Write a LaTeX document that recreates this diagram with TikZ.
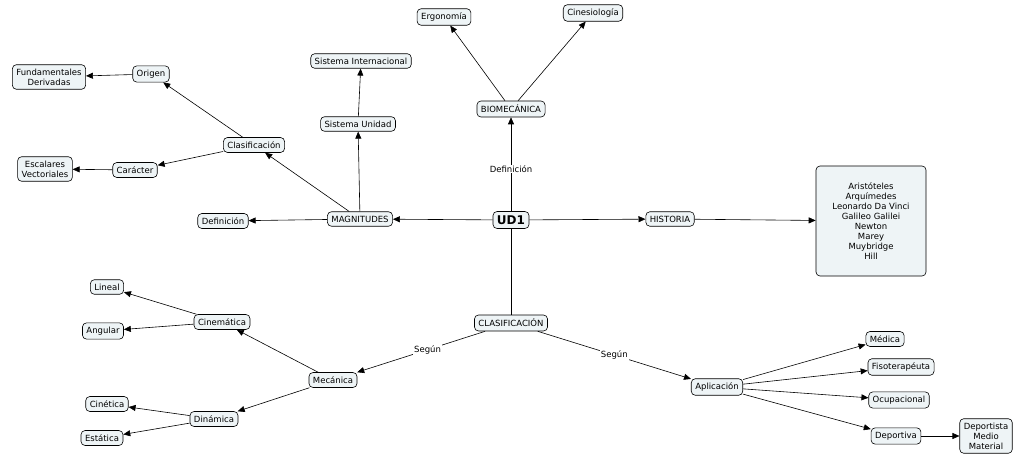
\documentclass[tikz,border=0pt]{standalone}
\usepackage{fontspec}
\setmainfont{DejaVu Sans}
\usetikzlibrary{arrows.meta}
\definecolor{boxfill}{HTML}{EEF4F6}
\begin{document}
\begin{tikzpicture}[x=1pt,y=-1pt,
  box/.style={draw=black,fill=boxfill,rounded corners=4pt,font=\fontsize{8.5}{10}\selectfont,inner sep=4pt,align=center,line width=0.6pt},
  lbl/.style={fill=white,font=\fontsize{8.5}{10}\selectfont,inner sep=1pt},
  arr/.style={-{Triangle[length=7pt,width=6pt]},line width=0.6pt},
  ln/.style={line width=0.6pt}]
\useasboundingbox (0,0) rectangle (1024,462);
\node[box,font=\bfseries\fontsize{12}{14}\selectfont] (ud1) at (511,220) {UD1};
\node[box] (mag) at (360,219) {MAGNITUDES};
\node[box] (def) at (223,221) {Definición};
\node[box] (clas) at (254,145) {Clasificación};
\node[box] (orig) at (151,74) {Origen};
\node[box] (fund) at (49,77) {Fundamentales\\Derivadas};
\node[box] (car) at (135,170) {Carácter};
\node[box] (esc) at (45,169) {Escalares\\Vectoriales};
\node[box] (su) at (358,124) {Sistema Unidad};
\node[box] (si) at (361,61) {Sistema Internacional};
\node[box] (bio) at (511,109) {BIOMECÁNICA};
\node[box] (erg) at (444,17) {Ergonomía};
\node[box] (cin) at (593,13) {Cinesiología};
\node[box] (his) at (670,219) {HISTORIA};
\node[box,minimum width=110pt,minimum height=110pt] (list) at (871,221) {Aristóteles\\Arquímedes\\Leonardo Da Vinci\\Galileo Galilei\\Newton\\Marey\\Muybridge\\Hill};
\node[box] (cla2) at (511,323) {CLASIFICACIÓN};
\node[box] (mec) at (333,380) {Mecánica};
\node[box] (cinem) at (222,322) {Cinemática};
\node[box] (lin) at (107,287) {Lineal};
\node[box] (ang) at (103,331) {Angular};
\node[box] (din) at (214,419) {Dinámica};
\node[box] (cint) at (107,404) {Cinética};
\node[box] (est) at (102,438) {Estática};
\node[box] (apl) at (717,387) {Aplicación};
\node[box] (med) at (885,339) {Médica};
\node[box] (fis) at (901,367) {Fisoterapéuta};
\node[box] (ocu) at (899,400) {Ocupacional};
\node[box] (dep) at (896,436) {Deportiva};
\node[box] (dpm) at (986,436) {Deportista\\Medio\\Material};
\draw[arr] (ud1) -- (mag);
\draw[arr] (ud1) -- node[lbl,pos=0.45]{Definición} (bio);
\draw[arr] (ud1) -- (his);
\draw[ln] (ud1) -- (cla2);
\draw[arr] (mag) -- (def);
\draw[arr] (mag) -- (clas);
\draw[arr] (mag) -- (su);
\draw[arr] (su) -- (si);
\draw[arr] (clas) -- (orig);
\draw[arr] (clas) -- (car);
\draw[arr] (orig) -- (fund);
\draw[arr] (car) -- (esc);
\draw[arr] (bio) -- (erg);
\draw[arr] (bio) -- (cin);
\draw[arr] (his) -- (list);
\draw[arr] (cla2) -- node[lbl,pos=0.45]{Según} (mec);
\draw[arr] (cla2) -- node[lbl,pos=0.5]{Según} (apl);
\draw[arr] (mec) -- (cinem);
\draw[arr] (mec) -- (din);
\draw[arr] (cinem) -- (lin);
\draw[arr] (cinem) -- (ang);
\draw[arr] (din) -- (cint);
\draw[arr] (din) -- (est);
\draw[arr] (apl) -- (med);
\draw[arr] (apl) -- (fis);
\draw[arr] (apl) -- (ocu);
\draw[arr] (apl) -- (dep);
\draw[arr] (dep) -- (dpm);
\end{tikzpicture}
\end{document}
